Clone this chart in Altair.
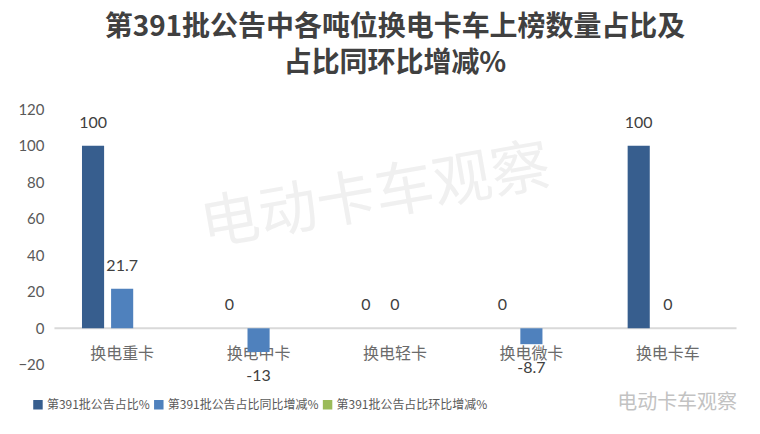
import altair as alt
import pandas as pd

categories = ["换电重卡", "换电中卡", "换电轻卡", "换电微卡", "换电卡车"]
series = ["第391批公告占比%", "第391批公告占比同比增减%", "第391批公告占比环比增减%"]
share = [100, 0, 0, 0, 100]
yoy = [21.7, -13, 0, -8.7, 0]
mom = [None, None, None, None, None]
colors = ["#375E8E", "#4F81BD", "#9BBB59"]
y_ticks = [-20, 0, 20, 40, 60, 80, 100, 120]

rows = []
for s, vals in zip(series, [share, yoy, mom]):
    for c, v in zip(categories, vals):
        rows.append({"cat": c, "series": s, "value": v,
                     "label": "" if v is None else (f"{v:g}")})
df = pd.DataFrame(rows)

CJK = "Noto Sans CJK SC"
NUM = "Lato"

x_enc = alt.X("cat:N", sort=categories, title=None,
              scale=alt.Scale(paddingInner=0.36, paddingOuter=0.18),
              axis=alt.Axis(labelAngle=0, labelFont=CJK, labelFontSize=16,
                            labelColor="#6B6B6B", ticks=False, domain=True,
                            domainColor="#D9D9D9", domainWidth=2,
                            labelPadding=18, offset=-37))
xo_enc = alt.XOffset("series:N", sort=series,
                     scale=alt.Scale(domain=series, paddingInner=0.24, paddingOuter=0.12))
y_enc = alt.Y("value:Q", title=None,
              scale=alt.Scale(domain=[-20, 120], nice=False, zero=True),
              axis=alt.Axis(values=y_ticks, grid=False, domain=False, ticks=False,
                            labelOverlap=False,
                            labelFont=NUM, labelFontSize=15, labelColor="#595959",
                            labelPadding=10, minExtent=40, maxExtent=40))
color_enc = alt.Color("series:N", sort=series,
                      scale=alt.Scale(domain=series, range=colors),
                      legend=alt.Legend(title=None, orient="none", direction="horizontal",
                                        legendX=-22, legendY=290,
                                        symbolType="square", symbolSize=90,
                                        symbolStrokeWidth=0, labelLimit=0,
                                        labelFont=CJK, labelFontSize=12,
                                        labelColor="#595959", columnPadding=2,
                                        labelOffset=3))

base = alt.Chart(df)

bars = base.mark_bar().encode(x=x_enc, xOffset=xo_enc, y=y_enc, color=color_enc)

pos_labels = base.transform_filter("isValid(datum.value) && datum.value >= 0").mark_text(
    baseline="bottom", dy=-15, font=NUM, fontSize=16, color="#404040"
).encode(x=x_enc, xOffset=xo_enc, y=y_enc, text="label:N")

neg_labels = base.transform_filter("isValid(datum.value) && datum.value < 0").mark_text(
    baseline="top", dy=16, font=NUM, fontSize=16, color="#404040"
).encode(x=x_enc, xOffset=xo_enc, y=y_enc, text="label:N")

watermark = alt.Chart(pd.DataFrame({"t": ["电动卡车观察"]})).mark_text(
    font=CJK, fontSize=59, color="#F0F0F0", angle=350
).encode(x=alt.value(322), y=alt.value(88), text="t:N")

corner = alt.Chart(pd.DataFrame({"t": ["电动卡车观察"]})).mark_text(
    font=CJK, fontSize=20, color="#9A9A9A", opacity=0.6
).encode(x=alt.value(624), y=alt.value(294), text="t:N")

chart = alt.layer(watermark, bars, pos_labels, neg_labels, corner).properties(
    width=683, height=256,
    padding={"left": 6, "right": 15, "top": 6, "bottom": 30},
    title=alt.TitleParams(
        text=["第391批公告中各吨位换电卡车上榜数量占比及", "占比同环比增减%"],
        font=CJK, fontSize=28, fontWeight="bold", color="#404040",
        lineHeight=36, anchor="middle", offset=24
    )
).configure_view(stroke=None).configure_axis(labelOverlap=False)

chart.save("out.html", embed_options={"renderer": "svg", "actions": False})
